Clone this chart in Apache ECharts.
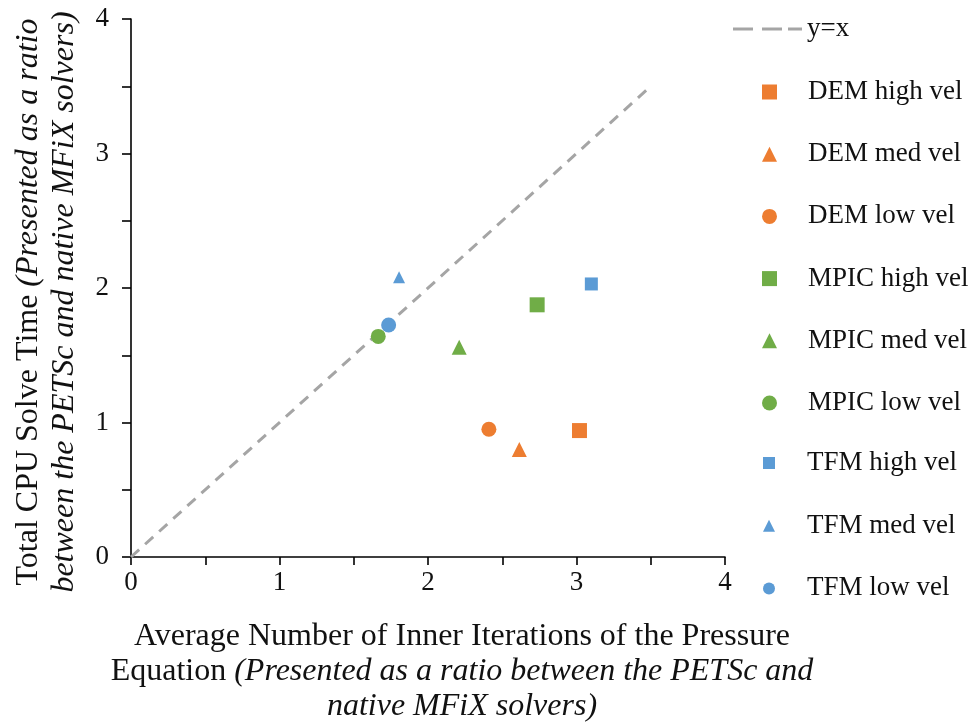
<!DOCTYPE html>
<html>
<head>
<meta charset="utf-8">
<script src="https://cdn.jsdelivr.net/npm/echarts@6/dist/echarts.min.js"></script>
<style>
  html, body { margin: 0; padding: 0; background: #fff; }
  #chart { width: 973px; height: 728px; }
</style>
</head>
<body>
<div id="chart"></div>
<script>
// Ratios PETSc / native MFiX: x = inner iterations of pressure eq., y = total CPU solve time
const seriesNames = [
  'DEM high vel', 'DEM med vel', 'DEM low vel',
  'MPIC high vel', 'MPIC med vel', 'MPIC low vel',
  'TFM high vel', 'TFM med vel', 'TFM low vel'
];
const iterRatio = [3.02, 2.615, 2.41, 2.735, 2.21, 1.665, 3.10, 1.805, 1.735];
const cpuRatio  = [0.94, 0.80, 0.95, 1.875, 1.56, 1.64, 2.03, 2.08, 1.725];
const seriesSymbols = ['rect', 'triangle', 'circle', 'rect', 'triangle', 'circle', 'rect', 'triangle', 'circle'];
const seriesColors = ['#ED7D31', '#ED7D31', '#ED7D31', '#70AD47', '#70AD47', '#70AD47', '#5B9BD5', '#5B9BD5', '#5B9BD5'];
const symbolSizes = [15, 15, 15, 15, 15, 15, 13, 12, 15];
const identityLine = [[0, 0], [3.5, 3.5]];
const axisTicks = [0, 1, 2, 3, 4];

const FONT = 'Liberation Serif';
const TEXT = '#111';

const scatterSeries = seriesNames.map((name, i) => ({
  name: name,
  type: 'scatter',
  symbol: seriesSymbols[i],
  symbolSize: symbolSizes[i],
  itemStyle: { color: seriesColors[i], opacity: 1 },
  data: [[iterRatio[i], cpuRatio[i]]],
  z: 3
}));

const chart = echarts.init(document.getElementById('chart'), null, { renderer: 'canvas' });

const legendText = (pad) => ({
  fontFamily: FONT, fontSize: 27, color: TEXT, lineHeight: 28,
  padding: [0, 0, 0, pad]
});

const titleRich = (lh) => ({
  n: { fontFamily: FONT, fontSize: 32, color: TEXT, lineHeight: lh },
  i: { fontFamily: FONT, fontSize: 32, color: TEXT, lineHeight: lh, fontStyle: 'italic' }
});

// three-dash icon for the y=x legend entry
const dashIcon = 'path://M0,0H20V3H0Z M29,0H49V3H29Z M55,0H69V3H55Z';

chart.setOption({
  animation: false,
  backgroundColor: '#fff',
  grid: {
    left: 131, right: 248, top: 19, bottom: 171,
    containLabel: false, outerBoundsMode: 'none'
  },
  xAxis: {
    type: 'value', min: 0, max: 4, interval: 0.5,
    axisLine: { show: true, lineStyle: { color: '#000', width: 1.6 } },
    axisTick: { show: true, inside: false, length: 8, lineStyle: { color: '#000', width: 1.6 } },
    splitLine: { show: false },
    axisLabel: {
      margin: 12, fontFamily: FONT, fontSize: 27, color: TEXT,
      formatter: v => (axisTicks.indexOf(v) >= 0 ? String(v) : '')
    },
    name: '{n|Average Number of Inner Iterations of the Pressure}\n' +
          '{n|Equation }{i|(Presented as a ratio between the PETSc and}\n' +
          '{i|native MFiX solvers)}',
    nameLocation: 'middle',
    nameGap: 62,
    nameTextStyle: {
      fontFamily: FONT, fontSize: 32, color: TEXT, lineHeight: 35,
      padding: [0, 0, 0, 68],
      rich: titleRich(35)
    }
  },
  yAxis: {
    type: 'value', min: 0, max: 4, interval: 0.5,
    axisLine: { show: true, lineStyle: { color: '#000', width: 1.6 } },
    axisTick: { show: true, inside: false, length: 9, lineStyle: { color: '#000', width: 1.6 } },
    splitLine: { show: false },
    axisLabel: {
      margin: 22, fontFamily: FONT, fontSize: 27, color: TEXT,
      formatter: v => (axisTicks.indexOf(v) >= 0 ? String(v) : '')
    },
    name: '{n|Total CPU Solve Time }{i|(Presented as a ratio}\n' +
          '{i|between the PETSc and native MFiX solvers)}',
    nameLocation: 'middle',
    nameGap: 48,
    nameTextStyle: {
      fontFamily: FONT, fontSize: 32, color: TEXT, lineHeight: 36,
      padding: [0, 28, 0, 0],
      rich: titleRich(36)
    }
  },
  legend: [
    {
      orient: 'vertical', left: 728, top: 10,
      data: [{ name: 'y=x', icon: dashIcon }],
      itemWidth: 69, itemHeight: 3,
      itemStyle: { color: '#A5A5A5' },
      textStyle: legendText(0)
    },
    {
      orient: 'vertical', left: 757, top: 73, align: 'left',
      data: seriesNames.slice(0, 6), itemWidth: 15, itemHeight: 15,
      itemGap: 34.2,
      textStyle: legendText(26)
    },
    {
      orient: 'vertical', left: 758, top: 444, align: 'left',
      data: seriesNames.slice(6), itemWidth: 12, itemHeight: 12,
      itemGap: 34.7,
      textStyle: legendText(27)
    }
  ],
  series: [
    {
      name: 'y=x',
      type: 'line',
      data: identityLine,
      symbol: 'none',
      lineStyle: { color: '#A5A5A5', width: 3, type: [11, 8] },
      itemStyle: { color: '#A5A5A5' },
      z: 2
    }
  ].concat(scatterSeries)
});
</script>
</body>
</html>
